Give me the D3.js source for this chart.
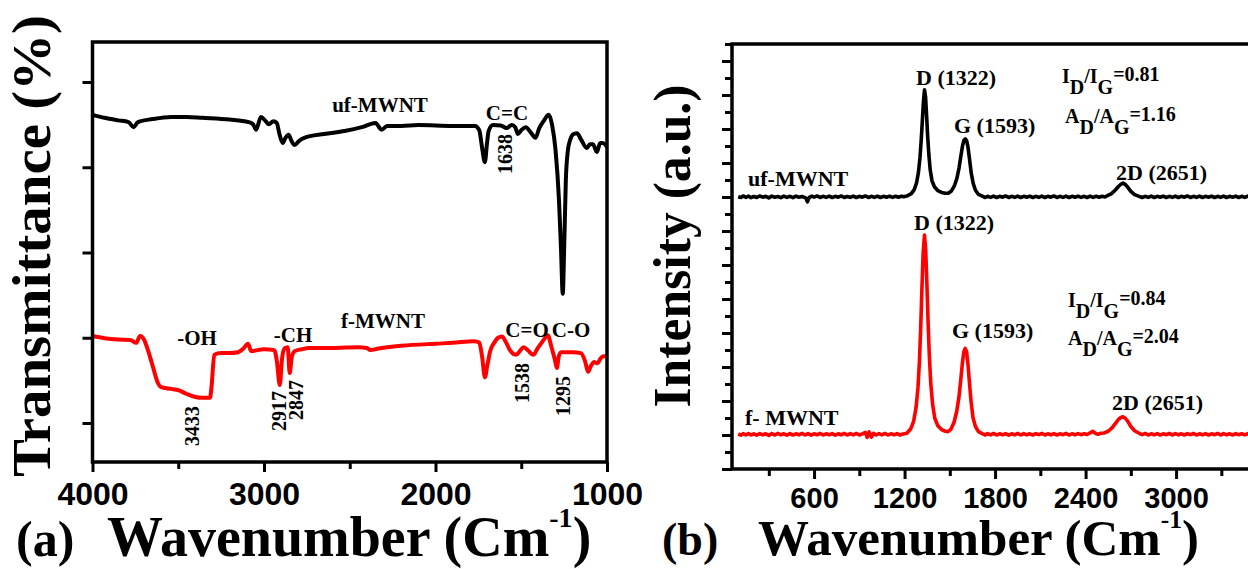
<!DOCTYPE html>
<html>
<head>
<meta charset="utf-8">
<script src="https://cdn.jsdelivr.net/npm/d3@7"></script>
<style>
  body { margin: 0; background: #fff; }
  svg { display: block; }
</style>
</head>
<body>
<svg id="chart" width="1248" height="569"></svg>
<script>
// ---- (a) FTIR, [wavenumber, transmittance]
const ftirUf = [[4000,92.3],[3930,91.6],[3850,91.0],[3790,90.6],[3760,89.4],[3735,90.6],[3650,91.3],[3540,91.8],[3450,91.8],[3360,91.6],[3200,91.2],[3090,90.6],[3064,90.1],[3046,88.8],[3018,91.8],[2990,90.8],[2972,90.1],[2945,90.8],[2926,90.4],[2908,87.5],[2891,85.7],[2875,86.9],[2857,87.6],[2840,86.2],[2822,85.2],[2795,86.2],[2765,86.9],[2650,87.8],[2530,88.5],[2430,89.4],[2350,90.4],[2315,88.8],[2281,89.7],[2200,89.7],[2100,89.9],[1900,89.7],[1770,89.7],[1745,88.7],[1728,84.5],[1712,81.2],[1700,85.5],[1690,88.5],[1665,89.9],[1620,89.8],[1585,89.2],[1555,89.9],[1535,89.4],[1520,87.8],[1500,88.7],[1474,89.4],[1445,88.2],[1417,86.9],[1395,89.2],[1370,90.8],[1340,92.3],[1320,89.9],[1300,84.0],[1280,72.3],[1268,60.6],[1258,50.3],[1250,60.6],[1240,77.0],[1228,84.0],[1215,86.4],[1195,87.8],[1175,88.0],[1150,86.4],[1117,84.5],[1100,85.4],[1082,85.4],[1059,83.6],[1040,85.7],[1025,85.7],[1000,84.8]]
const ftirF = [[4000,40.4],[3930,39.9],[3850,39.6],[3780,39.5],[3745,38.8],[3723,40.4],[3700,39.6],[3680,37.5],[3650,33.5],[3620,29.5],[3600,28.4],[3540,28.0],[3500,27.7],[3450,26.8],[3400,26.1],[3360,25.9],[3315,25.9],[3306,28.5],[3290,36.0],[3250,36.4],[3200,36.4],[3152,36.6],[3120,37.5],[3093,38.6],[3075,36.9],[3000,37.3],[2940,37.1],[2925,34.5],[2908,28.9],[2895,35.0],[2880,37.5],[2862,37.8],[2850,31.7],[2838,35.5],[2820,36.9],[2780,37.3],[2740,37.6],[2600,37.6],[2450,37.8],[2400,37.6],[2380,37.1],[2340,37.4],[2200,38.1],[2000,38.6],[1900,38.8],[1774,39.2],[1745,38.9],[1728,35.5],[1712,30.7],[1698,33.5],[1680,37.0],[1658,38.8],[1635,40.0],[1612,40.3],[1590,39.0],[1566,37.1],[1545,36.2],[1530,36.0],[1510,36.8],[1486,37.8],[1460,37.0],[1430,36.0],[1405,37.5],[1382,38.8],[1360,40.0],[1345,40.6],[1325,38.0],[1305,35.0],[1292,32.9],[1282,35.5],[1268,36.6],[1200,36.6],[1152,36.4],[1128,34.5],[1110,32.0],[1095,33.3],[1075,34.3],[1055,34.0],[1040,35.0],[1025,35.6],[1000,35.7]]
const ftirXTicks = [4000, 3000, 2000, 1000]
const ftirXMinor = [3500, 2500, 1500]
const ftirYTicks = [20, 40, 60, 80, 100]

// ---- (b) Raman, [wavenumber, intensity a.u.]
const ramanUf = [[97,16.02],[115,15.97],[130,16.06],[148,15.98],[165,16.05],[182,15.96],[200,16.03],[220,15.97],[240,16.06],[260,15.99],[280,16.04],[300,15.95],[320,16.05],[340,15.99],[360,16.03],[380,15.96],[400,16.05],[420,15.98],[440,16.04],[460,15.96],[480,16.05],[500,15.99],[520,16.03],[545,15.95],[556,15.72],[568,15.98],[585,16.05],[600,15.99],[620,16.06],[640,15.97],[660,16.04],[680,15.98],[700,16.05],[720,15.97],[740,16.04],[760,15.99],[780,16.06],[800,15.97],[820,16.03],[840,15.98],[860,16.05],[880,15.97],[900,16.04],[920,15.99],[940,16.06],[960,15.97],[980,16.04],[1000,15.98],[1020,16.05],[1040,15.97],[1060,16.04],[1080,15.99],[1100,16.05],[1120,15.98],[1140,16.04],[1160,15.99],[1180,16.05],[1195,16.02],
  [1220,16.08],[1245,16.2],[1265,16.45],[1280,16.85],[1292,17.45],[1302,18.3],[1310,19.3],[1318,20.5],[1325,21.6],[1332,22.3],[1339,21.9],[1346,20.8],[1353,19.6],[1361,18.5],[1370,17.6],[1382,16.95],[1398,16.6],[1420,16.38],[1445,16.27],[1470,16.22],[1490,16.22],
  [1510,16.35],[1530,16.65],[1547,17.1],[1561,17.7],[1573,18.4],[1584,19.0],[1594,19.35],[1603,19.42],[1612,19.3],[1621,18.9],[1631,18.2],[1642,17.4],[1655,16.8],[1670,16.4],[1690,16.15],[1715,16.05],
  [1735,15.97],[1750,16.04],[1770,15.98],[1790,16.05],[1810,15.97],[1830,16.04],[1850,15.99],[1870,16.06],[1890,15.97],[1910,16.04],[1930,15.98],[1950,16.05],[1970,15.97],[1990,16.04],[2010,15.99],[2030,16.05],[2050,15.97],[2070,16.04],[2090,15.98],[2110,16.05],[2130,15.97],[2150,16.04],[2170,15.99],[2190,16.06],[2210,15.97],[2230,16.04],[2250,15.98],[2270,16.05],[2290,15.97],[2310,16.04],[2330,15.99],[2350,16.05],[2370,15.98],[2390,16.04],[2410,15.97],[2430,16.05],[2450,15.98],[2470,16.04],[2490,15.99],[2510,16.04],[2528,16.0],
  [2545,16.08],[2572,16.2],[2596,16.4],[2616,16.6],[2634,16.75],[2648,16.82],[2662,16.75],[2680,16.57],[2700,16.33],[2725,16.14],[2755,16.04],
  [2775,15.97],[2795,16.04],[2815,15.98],[2835,16.05],[2855,15.97],[2875,16.04],[2895,15.99],[2915,16.05],[2935,15.97],[2955,16.04],[2975,15.98],[2995,16.05],[3015,15.97],[3035,16.04],[3055,15.99],[3075,16.06],[3095,15.97],[3115,16.04],[3135,15.98],[3155,16.05],[3175,15.97],[3195,16.04],[3215,15.99],[3235,16.05],[3255,15.97],[3275,16.04],[3295,15.98],[3315,16.05],[3335,15.97],[3355,16.04],[3375,15.99],[3395,16.05],[3415,15.97],[3435,16.04],[3455,15.98],[3475,16.05],[3495,15.97],[3520,16.03]]
const ramanF = [[97,2.06],[115,1.99],[130,2.08],[148,2.01],[165,2.09],[182,2.0],[200,2.07],[220,1.99],[240,2.08],[260,2.01],[280,2.07],[300,1.98],[320,2.08],[340,2.0],[360,2.09],[380,2.01],[400,2.07],[420,1.99],[440,2.08],[460,2.0],[480,2.07],[500,2.01],[520,2.09],[540,2.0],[560,2.08],[580,1.99],[600,2.07],[620,2.01],[640,2.09],[660,2.0],[680,2.07],[700,2.01],[720,2.08],[740,1.99],[760,2.07],[780,2.01],[800,2.09],[820,2.0],[840,2.08],[860,2.01],[880,2.09],[900,2.0],[920,2.07],[940,2.15],[952,1.86],[965,2.18],[980,1.88],[995,2.1],[1012,2.0],[1030,2.08],[1050,2.01],[1070,2.09],[1090,2.0],[1110,2.07],[1130,2.01],[1150,2.08],[1170,2.0],[1190,2.06],
  [1215,2.1],[1240,2.35],[1260,2.8],[1276,3.6],[1289,4.8],[1299,6.4],[1307,8.3],[1315,10.6],[1323,12.7],[1332,13.76],[1340,12.9],[1348,10.9],[1356,8.6],[1364,6.7],[1374,5.0],[1386,3.8],[1400,3.0],[1420,2.55],[1445,2.32],[1470,2.22],[1488,2.2],
  [1508,2.35],[1528,2.75],[1546,3.4],[1560,4.2],[1572,5.2],[1583,6.2],[1593,6.9],[1602,7.1],[1611,6.9],[1620,6.2],[1630,5.1],[1641,3.95],[1654,3.0],[1670,2.5],[1690,2.2],[1715,2.08],
  [1735,2.0],[1750,2.08],[1770,2.01],[1790,2.09],[1810,2.0],[1830,2.07],[1850,2.01],[1870,2.08],[1890,1.99],[1910,2.07],[1930,2.01],[1950,2.09],[1970,2.0],[1990,2.08],[2010,2.01],[2030,2.07],[2050,2.0],[2070,2.08],[2090,2.02],[2110,2.09],[2130,2.0],[2150,2.07],[2170,2.01],[2190,2.08],[2210,2.0],[2230,2.07],[2250,2.02],[2270,2.09],[2290,2.0],[2310,2.07],[2330,2.01],[2350,2.08],[2370,2.02],[2390,2.07],[2410,2.03],[2430,2.12],[2447,2.22],[2465,2.1],[2482,2.04],[2500,2.1],[2525,2.12],
  [2550,2.22],[2575,2.42],[2598,2.68],[2616,2.9],[2634,3.03],[2648,3.07],[2662,3.0],[2680,2.8],[2700,2.5],[2725,2.25],[2755,2.1],
  [2775,2.02],[2795,2.09],[2815,2.0],[2835,2.07],[2855,2.01],[2875,2.08],[2895,2.0],[2915,2.07],[2935,2.02],[2955,2.09],[2975,2.0],[2995,2.08],[3015,2.01],[3035,2.07],[3055,2.0],[3075,2.08],[3095,2.02],[3115,2.09],[3135,2.0],[3155,2.07],[3175,2.01],[3195,2.08],[3215,2.0],[3235,2.07],[3255,2.02],[3275,2.09],[3295,2.0],[3315,2.08],[3335,2.01],[3355,2.07],[3375,2.0],[3395,2.08],[3415,2.02],[3435,2.07],[3455,2.01],[3475,2.08],[3495,2.0],[3520,2.05]]
const ramanXTicks = [600, 1200, 1800, 2400, 3000]
const ramanXMinor = [300, 900, 1500, 2100, 2700, 3300]
const ramanYTicks = [0, 2, 4, 6, 8, 10, 12, 14, 16, 18, 20, 22, 24]
const ramanYMinor = [1, 3, 5, 7, 9, 11, 13, 15, 17, 19, 21, 23, 25]

const SERIF = '"Liberation Serif", "Times New Roman", serif'
const SANS = '"Liberation Sans", Arial, sans-serif'

var svg = d3.select('#chart')

// panel boxes
var A = { left: 92.5, right: 607, top: 42, bottom: 462 }
var B = { left: 732, right: 1250, top: 44, bottom: 469 }

var xA = d3.scaleLinear().domain([4000, 1000]).range([A.left, A.right])
var yA = d3.scaleLinear().domain([20, 100]).range([423, 82])
var xB = d3.scaleLinear().domain([56, 3490]).range([B.left, B.right])
var yB = d3.scaleLinear().domain([0, 25]).range([B.bottom, B.top])

var defs = svg.append('defs')
function clip(id, box) {
  defs.append('clipPath').attr('id', id)
    .append('rect')
    .attr('x', box.left).attr('y', box.top)
    .attr('width', box.right - box.left).attr('height', box.bottom - box.top)
}
clip('clipA', A)
clip('clipB', B)

function styleAxis(g) {
  g.select('.domain').remove()
  g.selectAll('.tick line').attr('stroke', '#000').attr('stroke-width', 3)
}

// ---------- panel (a)
var ga = svg.append('g')

var lineA = d3.line()
  .x(function(d) { return xA(d[0]) })
  .y(function(d) { return yA(d[1]) })
  .curve(d3.curveMonotoneX)

ga.append('g').attr('clip-path', 'url(#clipA)')
  .selectAll('path')
  .data([[ftirUf, '#000'], [ftirF, '#ff0000']])
  .enter()
  .append('path')
  .attr('d', function(d) { return lineA(d[0]) })
  .attr('fill', 'none')
  .attr('stroke', function(d) { return d[1] })
  .attr('stroke-width', 4)
  .attr('stroke-linejoin', 'round')

ga.append('g')
  .attr('transform', 'translate(0,' + A.bottom + ')')
  .call(d3.axisBottom(xA).tickValues(ftirXTicks).tickSize(10).tickPadding(10).tickFormat(d3.format('d')))
  .call(styleAxis)
  .selectAll('text')
  .attr('font-family', SANS).attr('font-weight', 'bold').attr('font-size', 32).attr('fill', '#000')

ga.append('g')
  .attr('transform', 'translate(0,' + A.bottom + ')')
  .call(d3.axisBottom(xA).tickValues(ftirXMinor).tickSize(7).tickFormat(''))
  .call(styleAxis)

ga.append('g')
  .attr('transform', 'translate(' + A.left + ',0)')
  .call(d3.axisLeft(yA).tickValues(ftirYTicks).tickSize(10).tickFormat(''))
  .call(styleAxis)

ga.append('rect')
  .attr('x', A.left).attr('y', A.top)
  .attr('width', A.right - A.left).attr('height', A.bottom - A.top)
  .attr('fill', 'none').attr('stroke', '#000').attr('stroke-width', 3.5)

// ---------- panel (b)
var gb = svg.append('g')

var lineB = d3.line()
  .x(function(d) { return xB(d[0]) })
  .y(function(d) { return yB(d[1]) })

gb.append('g').attr('clip-path', 'url(#clipB)')
  .selectAll('path')
  .data([[ramanUf, '#000'], [ramanF, '#ff0000']])
  .enter()
  .append('path')
  .attr('d', function(d) { return lineB(d[0]) })
  .attr('fill', 'none')
  .attr('stroke', function(d) { return d[1] })
  .attr('stroke-width', 3.6)
  .attr('stroke-linejoin', 'round')

gb.append('g')
  .attr('transform', 'translate(0,' + B.bottom + ')')
  .call(d3.axisBottom(xB).tickValues(ramanXTicks).tickSize(10).tickPadding(8).tickFormat(d3.format('d')))
  .call(styleAxis)
  .selectAll('text')
  .attr('font-family', SANS).attr('font-weight', 'bold').attr('font-size', 29).attr('fill', '#000')

gb.append('g')
  .attr('transform', 'translate(0,' + B.bottom + ')')
  .call(d3.axisBottom(xB).tickValues(ramanXMinor).tickSize(7).tickFormat(''))
  .call(styleAxis)

gb.append('g')
  .attr('transform', 'translate(' + B.left + ',0)')
  .call(d3.axisLeft(yB).tickValues(ramanYTicks).tickSize(10).tickFormat(''))
  .call(styleAxis)

gb.append('g')
  .attr('transform', 'translate(' + B.left + ',0)')
  .call(d3.axisLeft(yB).tickValues(ramanYMinor).tickSize(7).tickFormat(''))
  .call(styleAxis)

gb.append('rect')
  .attr('x', B.left).attr('y', B.top)
  .attr('width', B.right - B.left).attr('height', B.bottom - B.top)
  .attr('fill', 'none').attr('stroke', '#000').attr('stroke-width', 3.5)

// ---------- text
function label(txt, x, y, size, anchor, rotate) {
  var t = svg.append('text')
    .attr('font-family', SERIF).attr('font-weight', 'bold')
    .attr('font-size', size).attr('fill', '#000')
    .attr('text-anchor', anchor || 'middle')
    .text(txt)
  if (rotate) {
    t.attr('transform', 'translate(' + x + ',' + y + ') rotate(-90)')
      .attr('dominant-baseline', 'central')
  } else {
    t.attr('x', x).attr('y', y)
  }
  return t
}

// (a) annotations
label('uf-MWNT', 380, 112, 21)
label('C=C', 507, 120, 21)
label('f-MWNT', 383, 328, 21)
label('-OH', 197, 345, 21)
label('-CH', 293, 342, 21)
label('C=O', 527, 337, 21)
label('C-O', 571, 337, 21)
label('1638', 505, 154, 20, 'middle', true)
label('3433', 192, 426, 20, 'middle', true)
label('2917', 279, 411, 20, 'middle', true)
label('2847', 296, 400, 20, 'middle', true)
label('1538', 522, 383, 20, 'middle', true)
label('1295', 563, 396, 20, 'middle', true)

// (b) annotations
label('D (1322)', 916, 85, 22, 'start')
label('G (1593)', 954, 133, 22, 'start')
label('2D (2651)', 1116, 180, 22, 'start')
label('uf-MWNT', 748, 186, 22, 'start')
label('D (1322)', 914, 230, 22, 'start')
label('G (1593)', 952, 338, 22, 'start')
label('2D (2651)', 1112, 410, 22, 'start')
label('f- MWNT', 745, 425, 22, 'start')

function ratio(x, y, a, val) {
  var t = label('', x, y, 20, 'start')
  t.append('tspan').text(a)
  t.append('tspan').attr('dy', 11).text('D')
  t.append('tspan').attr('dy', -11).text('/' + a)
  t.append('tspan').attr('dy', 11).text('G')
  t.append('tspan').attr('dy', -13).text('=' + val)
}
ratio(1062, 83, 'I', '0.81')
ratio(1065, 123, 'A', '1.16')
ratio(1068, 307, 'I', '0.84')
ratio(1068, 345, 'A', '2.04')

// axis titles
label('Transmittance (%)', 50, 246, 55, 'middle', false)
  .attr('x', null).attr('y', null)
  .attr('transform', 'translate(50,246) rotate(-90)')
  .attr('textLength', 462).attr('lengthAdjust', 'spacingAndGlyphs')

label('Intensity (a.u.)', 690, 246, 53, 'middle', false)
  .attr('x', null).attr('y', null)
  .attr('transform', 'translate(690,246) rotate(-90)')
  .attr('textLength', 323).attr('lengthAdjust', 'spacingAndGlyphs')

function xTitle(tag, tagX, tagSize, x, y, size) {
  label(tag, tagX, y, tagSize, 'start')
  var t = label('Wavenumber (Cm', x, y, size, 'start')
  t.append('tspan').attr('font-size', size * 0.5).attr('dy', -size * 0.52).text('-1')
  t.append('tspan').attr('dy', size * 0.52).text(')')
}
xTitle('(a)', 16, 50, 107, 556, 56)
xTitle('(b)', 662, 46, 758, 555, 51)
</script>
</body>
</html>
